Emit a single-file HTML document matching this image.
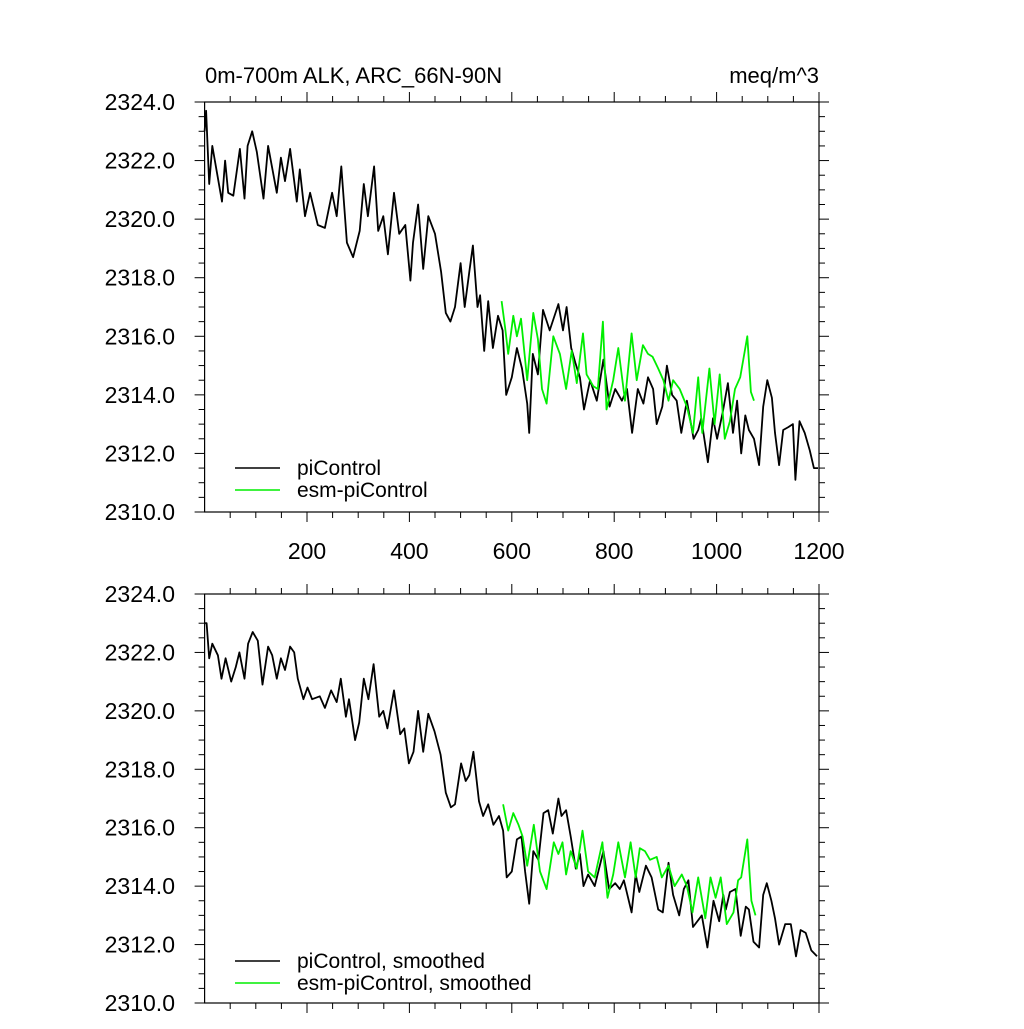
<!DOCTYPE html>
<html><head><meta charset="utf-8"><style>
html,body{margin:0;padding:0;background:#fff;}
svg text{font-family:"Liberation Sans",sans-serif;fill:#000;}
</style></head><body>
<svg id="chart" width="1024" height="1024" viewBox="0 0 1024 1024" xmlns="http://www.w3.org/2000/svg"></svg>
<script>
// ---- data ----
const piYears = [0,3,9,15,24,34,40,46,56,69,78,84,93,102,115,124,141,149,157,167,180,186,196,206,221,235,249,258,267,278,290,303,311,319,331,339,349,358,370,380,392,402,407,417,427,437,450,462,471,480,489,500,508,517,524,533,538,546,554,563,573,582,589,600,610,620,630,634,641,651,661,674,691,700,707,716,724,733,741,753,766,779,791,802,815,825,835,846,857,866,876,883,894,903,913,922,931,942,955,964,970,983,993,1001,1012,1022,1032,1040,1048,1056,1063,1073,1083,1091,1099,1108,1114,1122,1130,1140,1149,1154,1162,1172,1182,1190,1198];
const piValues = [2323.0,2323.7,2321.2,2322.5,2321.6,2320.6,2322.0,2320.9,2320.8,2322.4,2320.7,2322.5,2323.0,2322.3,2320.7,2322.5,2320.9,2322.1,2321.3,2322.4,2320.6,2321.7,2320.1,2320.9,2319.8,2319.7,2320.9,2320.1,2321.8,2319.2,2318.7,2319.6,2321.2,2320.1,2321.8,2319.6,2320.1,2318.8,2320.9,2319.5,2319.8,2317.9,2319.2,2320.5,2318.3,2320.1,2319.5,2318.2,2316.8,2316.5,2317.0,2318.5,2317.0,2318.2,2319.1,2317.0,2317.4,2315.5,2317.2,2315.6,2316.7,2316.2,2314.0,2314.6,2315.6,2314.9,2313.7,2312.7,2315.4,2314.7,2316.9,2316.2,2317.1,2316.2,2317.0,2315.6,2315.1,2314.6,2313.5,2314.5,2313.8,2315.2,2313.6,2314.2,2313.8,2314.2,2312.7,2314.2,2313.7,2314.6,2314.2,2313.0,2313.6,2315.0,2314.0,2313.8,2312.7,2313.8,2312.5,2312.8,2313.2,2311.7,2313.2,2312.5,2313.4,2314.4,2312.7,2313.8,2312.0,2313.3,2312.8,2312.5,2311.6,2313.6,2314.5,2313.9,2312.7,2311.6,2312.8,2312.9,2313.0,2311.1,2313.1,2312.7,2312.1,2311.5,2311.5];
const esmYears = [580,587,593,603,610,618,630,642,651,659,668,681,694,706,717,727,739,746,759,768,778,785,798,808,821,834,844,856,866,875,886,896,906,915,928,942,954,964,972,986,996,1006,1016,1026,1036,1046,1055,1060,1067,1073];
const esmValues = [2317.2,2316.3,2315.4,2316.7,2316.0,2316.6,2314.5,2316.8,2315.9,2314.2,2313.7,2316.0,2315.4,2314.2,2315.5,2314.4,2316.1,2314.7,2314.3,2314.2,2316.5,2313.5,2314.5,2315.6,2313.8,2316.1,2314.5,2315.7,2315.4,2315.3,2314.9,2314.5,2313.8,2314.5,2314.2,2313.6,2312.7,2314.6,2312.7,2314.9,2313.0,2314.7,2312.5,2313.1,2314.2,2314.6,2315.5,2316.0,2314.1,2313.8];
const piSmYears = [1,4,9,15,26,33,41,52,61,68,78,85,94,104,113,124,132,141,149,157,167,175,182,193,201,210,225,235,247,258,266,276,282,294,302,311,320,330,341,349,357,370,382,390,399,408,417,427,437,449,461,471,481,489,501,510,517,525,536,544,554,564,575,583,590,600,610,619,626,634,642,652,662,671,680,691,697,706,715,725,733,740,749,762,779,790,802,811,819,834,842,849,862,873,886,895,906,915,927,936,945,954,971,982,994,1005,1013,1018,1026,1037,1047,1057,1063,1072,1083,1091,1098,1107,1114,1122,1134,1145,1155,1164,1174,1185,1196];
const piSmValues = [2323.0,2323.0,2321.8,2322.3,2321.9,2321.1,2321.8,2321.0,2321.5,2322.0,2321.1,2322.3,2322.7,2322.4,2320.9,2322.2,2321.9,2321.1,2321.8,2321.4,2322.2,2322.0,2321.1,2320.4,2320.8,2320.4,2320.5,2320.1,2320.7,2320.3,2321.1,2319.8,2320.4,2319.0,2319.6,2321.1,2320.4,2321.6,2319.8,2320.0,2319.4,2320.7,2319.2,2319.4,2318.2,2318.6,2320.0,2318.6,2319.9,2319.3,2318.5,2317.2,2316.7,2316.8,2318.2,2317.6,2317.8,2318.6,2316.9,2316.4,2316.8,2316.1,2316.4,2315.9,2314.3,2314.5,2315.6,2315.7,2314.5,2313.4,2315.2,2314.9,2316.5,2316.6,2315.8,2317.0,2316.4,2316.6,2315.7,2314.6,2315.1,2314.0,2314.4,2314.0,2315.2,2313.9,2314.1,2313.9,2314.2,2313.1,2314.4,2313.8,2314.7,2314.3,2313.2,2313.1,2314.8,2313.7,2313.0,2313.9,2314.2,2312.6,2313.0,2311.9,2313.5,2312.8,2313.7,2313.2,2313.8,2313.9,2312.3,2313.3,2313.2,2312.1,2311.9,2313.7,2314.1,2313.5,2312.9,2312.0,2312.7,2312.7,2311.6,2312.5,2312.4,2311.8,2311.6];
const esmSmYears = [583,593,603,613,621,630,643,655,668,682,691,699,706,715,727,738,749,762,777,787,798,808,821,832,842,850,860,870,883,893,906,918,932,942,953,964,978,988,998,1008,1020,1033,1042,1048,1060,1068,1076];
const esmSmValues = [2316.8,2315.9,2316.5,2316.1,2315.7,2314.7,2316.1,2314.5,2313.9,2315.5,2315.1,2315.5,2314.4,2315.2,2314.6,2315.9,2314.5,2314.3,2315.5,2313.6,2314.4,2315.5,2314.3,2315.5,2314.3,2315.3,2315.2,2314.9,2315.0,2314.3,2314.7,2314.0,2314.4,2314.0,2313.1,2314.3,2312.9,2314.3,2313.6,2314.3,2312.7,2313.1,2314.2,2314.3,2315.6,2313.5,2313.0];
const yTicks = [2310,2312,2314,2316,2318,2320,2322,2324];
const xTicks = [200,400,600,800,1000,1200];

const NS = "http://www.w3.org/2000/svg";
const svg = document.getElementById('chart');
const X0 = 204.6, X1 = 819;
function xs(v){ return X0 + (v/1200)*(X1-X0); }
function mk(tag, attrs, parent){ const e=document.createElementNS(NS,tag); for(const k in attrs) e.setAttribute(k,attrs[k]); (parent||svg).appendChild(e); return e; }

function panel(name, top, bottom, series, legends, showX){
  const g = mk('g',{});
  
  
  const ys = v => bottom - (v-2310)/14*(bottom-top);
  for(let v=2310; v<=2324.001; v+=0.5){
    const major = Math.abs(v/2-Math.round(v/2))<1e-6;
    const L = major?10:6;
    mk('line',{x1:X0-L,x2:X0,y1:ys(v),y2:ys(v),stroke:'#000','stroke-width':1},g);
    mk('line',{x1:X1,x2:X1+L,y1:ys(v),y2:ys(v),stroke:'#000','stroke-width':1},g);
  }
  for(let v=50; v<=1200; v+=50){
    const major = v%200===0;
    const L = major?10:6;
    mk('line',{x1:xs(v),x2:xs(v),y1:top-L,y2:top,stroke:'#000','stroke-width':1},g);
    mk('line',{x1:xs(v),x2:xs(v),y1:bottom,y2:bottom+L,stroke:'#000','stroke-width':1},g);
  }
  yTicks.forEach(v=>{
    const t = mk('text',{x:175,y:ys(v)+8,'text-anchor':'end','font-size':23},g);
    t.textContent = v.toFixed(1);
    
    
  });
  if(showX){
    xTicks.forEach(v=>{
      const t = mk('text',{x:xs(v),y:bottom+47,'text-anchor':'middle','font-size':23},g);
      t.textContent = v;
      
      
    });
  }
  series.forEach(s=>{
    const d = s.years.map((yr,i)=>(i?'L':'M')+xs(yr).toFixed(1)+' '+ys(s.vals[i]).toFixed(1)).join(' ');
    const p = mk('path',{d:d,fill:'none',stroke:s.color,'stroke-width':1.8,'stroke-linejoin':'round'},g);
    
    
  });
  mk('rect',{x:X0,y:top,width:X1-X0,height:bottom-top,fill:'none',stroke:'#000','stroke-width':1.2},g);
  legends.forEach((l,i)=>{
    const ly = legends.y + i*22;
    const ln = mk('line',{x1:235,x2:280,y1:ly,y2:ly,stroke:l.color,'stroke-width':1.4},g);
    
    
    const t = mk('text',{x:297,y:ly+7,'font-size':21},g);
    t.textContent = l.label;
    
    
  });
}
const leg1 = [{color:'#000',label:'piControl'},{color:'#00ee00',label:'esm-piControl'}]; leg1.y=468;
const leg2 = [{color:'#000',label:'piControl, smoothed'},{color:'#00ee00',label:'esm-piControl, smoothed'}]; leg2.y=961;
panel('top-panel',102,512,[{name:'picontrol-line',years:piYears,vals:piValues,color:'#000'},{name:'esm-picontrol-line',years:esmYears,vals:esmValues,color:'#00ee00'}],leg1,true);
panel('bottom-panel',594,1003,[{name:'picontrol-smoothed-line',years:piSmYears,vals:piSmValues,color:'#000'},{name:'esm-picontrol-smoothed-line',years:esmSmYears,vals:esmSmValues,color:'#00ee00'}],leg2,false);

const t1 = mk('text',{x:205,y:83,'font-size':22});
t1.textContent = '0m-700m ALK, ARC_66N-90N';


const t2 = mk('text',{x:819,y:83,'font-size':22,'text-anchor':'end'});
t2.textContent = 'meq/m^3';


</script>
</body></html>
